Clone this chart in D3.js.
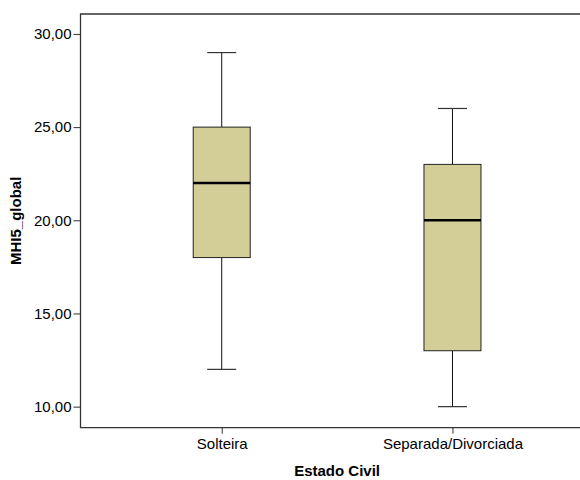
<!DOCTYPE html>
<html><head><meta charset="utf-8">
<script src="https://cdn.jsdelivr.net/npm/d3@7"></script>
<style>body{margin:0;background:#fff}svg{display:block}text{font-family:"Liberation Sans",Arial,sans-serif;fill:#000}</style>
</head><body><svg id="c" width="580" height="480"></svg>
<script>
const categories = ["Solteira", "Separada/Divorciada"];
const whiskerLow = [12, 10];
const q1 = [18, 13];
const median = [22, 20];
const q3 = [25, 23];
const whiskerHigh = [29, 26];
const yTicks = [10, 15, 20, 25, 30];

const svg = d3.select("#c");
const pLeft = 80.5, pTop = 14, pBottom = 427.7, pRight = 593.7;
const y = d3.scaleLinear().domain([8.87, 31.07]).range([pBottom, pTop]);
const x = d3.scalePoint().domain(categories).range([pLeft, pRight]).padding(0.612);
const boxW = 57, capW = 29;

// frame
svg.append("path").attr("d", `M${pRight},${pTop}H${pLeft}V${pBottom}H${pRight}`)
  .attr("fill", "none").attr("stroke", "#333").attr("stroke-width", 1.3);

// y axis
const ya = svg.append("g").attr("transform", `translate(${pLeft},0)`)
  .call(d3.axisLeft(y).tickValues(yTicks).tickSize(7).tickPadding(2)
    .tickFormat(d => d3.format(".2f")(d).replace(".", ",")));
ya.select(".domain").remove();
ya.selectAll("line").attr("stroke", "#333");
ya.selectAll("text").attr("font-size", 15).attr("fill", "#000").style("font-family", "'Liberation Sans',Arial,sans-serif");

// x axis
const xa = svg.append("g").attr("transform", `translate(0,${pBottom})`)
  .call(d3.axisBottom(x).tickSize(6).tickPadding(5));
xa.select(".domain").remove();
xa.selectAll("line").attr("stroke", "#333");
xa.selectAll("text").attr("font-size", 15).attr("fill", "#000").style("font-family", "'Liberation Sans',Arial,sans-serif");

// boxes
const data = categories.map((c, i) => ({c, lo: whiskerLow[i], q1: q1[i], med: median[i], q3: q3[i], hi: whiskerHigh[i]}));
const g = svg.selectAll("g.box").data(data).join("g").attr("class", "box");
g.append("line").attr("x1", d => x(d.c)).attr("x2", d => x(d.c))
  .attr("y1", d => y(d.hi)).attr("y2", d => y(d.q3)).attr("stroke", "#111");
g.append("line").attr("x1", d => x(d.c)).attr("x2", d => x(d.c))
  .attr("y1", d => y(d.q1)).attr("y2", d => y(d.lo)).attr("stroke", "#111");
g.append("line").attr("x1", d => x(d.c) - capW/2).attr("x2", d => x(d.c) + capW/2)
  .attr("y1", d => y(d.hi)).attr("y2", d => y(d.hi)).attr("stroke", "#333").attr("stroke-width", 1.2);
g.append("line").attr("x1", d => x(d.c) - capW/2).attr("x2", d => x(d.c) + capW/2)
  .attr("y1", d => y(d.lo)).attr("y2", d => y(d.lo)).attr("stroke", "#333").attr("stroke-width", 1.2);
g.append("rect").attr("x", d => x(d.c) - boxW/2).attr("width", boxW)
  .attr("y", d => y(d.q3)).attr("height", d => y(d.q1) - y(d.q3))
  .attr("fill", "#d3ce98").attr("stroke", "#222").attr("stroke-width", 1);
g.append("line").attr("x1", d => x(d.c) - boxW/2).attr("x2", d => x(d.c) + boxW/2)
  .attr("y1", d => y(d.med)).attr("y2", d => y(d.med)).attr("stroke", "#000").attr("stroke-width", 2.5);

// titles
svg.append("text").attr("x", (pLeft + pRight) / 2).attr("y", 476).attr("text-anchor", "middle")
  .attr("font-size", 15).attr("font-weight", "bold").text("Estado Civil");
svg.append("text").attr("transform", `translate(21,${(pTop + pBottom) / 2}) rotate(-90)`)
  .attr("text-anchor", "middle").attr("font-size", 15).attr("font-weight", "bold").text("MHI5_global");
</script></body></html>
